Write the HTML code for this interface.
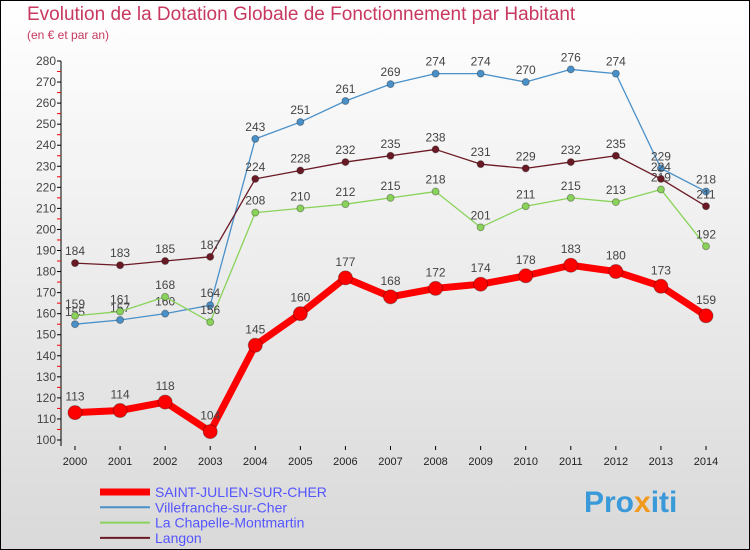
<!DOCTYPE html>
<html><head><meta charset="utf-8"><style>
body{margin:0}
#wrap{position:relative;width:748px;height:548px;border:1px solid #000;background:linear-gradient(#fff,#d9d9d9);overflow:hidden;font-family:"Liberation Sans",sans-serif}
.t{position:absolute;color:#c8385f}
</style></head><body>
<div id="wrap">
<div class="t" style="left:26px;top:3px;font-size:19px">Evolution de la Dotation Globale de Fonctionnement par Habitant</div>
<div class="t" style="left:26px;top:27px;font-size:12px">(en € et par an)</div>
<svg id="svg" width="750" height="550" style="position:absolute;left:-1px;top:-1px"></svg>
<div style="position:absolute;left:583px;top:485px;font-size:30px;font-weight:bold;color:#3a9ad9">Pro<span style="color:#f29a1d">x</span>iti</div>
</div>
<script>
const years=[2000,2001,2002,2003,2004,2005,2006,2007,2008,2009,2010,2011,2012,2013,2014];
const yTicks=[100,110,120,130,140,150,160,170,180,190,200,210,220,230,240,250,260,270,280];
const saint=[113,114,118,104,145,160,177,168,172,174,178,183,180,173,159];
const ville=[155,157,160,164,243,251,261,269,274,274,270,276,274,229,218];
const chap=[159,161,168,156,208,210,212,215,218,201,211,215,213,219,192];
const langon=[184,183,185,187,224,228,232,235,238,231,229,232,235,224,211];
const NS="http://www.w3.org/2000/svg",svg=document.getElementById('svg');
const X=i=>75+i*(706-75)/14, Y=v=>440-(v-100)*(440-61)/180;
function mk(t,a,p){const e=document.createElementNS(NS,t);for(const k in a)e.setAttribute(k,a[k]);(p||svg).appendChild(e);return e;}
const ax=mk('line',{x1:61,y1:Y(280),x2:61,y2:446,stroke:'#000'});


yTicks.forEach(v=>{
 mk('line',{x1:57,x2:61,y1:Y(v),y2:Y(v),stroke:'#000'});
 if(v<280)mk('line',{x1:57,x2:61,y1:Y(v+5),y2:Y(v+5),stroke:'#e00'});
 const t=mk('text',{x:56,y:Y(v)+4,'text-anchor':'end','font-size':12,fill:'#444'});t.textContent=v;
 
 
});
years.forEach((y,i)=>{
 mk('line',{x1:X(i),x2:X(i),y1:446,y2:450,stroke:'#000'});
 const t=mk('text',{x:X(i),y:465,'text-anchor':'middle','font-size':11,fill:'#222'});t.textContent=y;
 
 
});
function series(d,c,w,r,name){
 const g=mk('g',{});
 
 
 mk('polyline',{points:d.map((v,i)=>X(i)+','+Y(v)).join(' '),fill:'none',stroke:c,'stroke-width':w,'stroke-linejoin':'round'},g);
 d.forEach((v,i)=>{
  mk('circle',{cx:X(i),cy:Y(v),r:r,fill:c,stroke:'rgba(0,0,0,0.3)'},g);
  const t=mk('text',{x:X(i),y:Y(v)-8-(r>5?4:0),'text-anchor':'middle','font-size':12,fill:'#444'},g);t.textContent=v;
 });
}
series(ville,'#4a90c8',1.3,3.5,'series-villefranche');
series(chap,'#8ad35a',1.3,3.5,'series-la-chapelle');
series(langon,'#6a1a24',1.3,3.5,'series-langon');
series(saint,'#f00',7,7,'series-saint-julien');
const leg=[['SAINT-JULIEN-SUR-CHER','#f00',7],['Villefranche-sur-Cher','#4a90c8',2],['La Chapelle-Montmartin','#8ad35a',2],['Langon','#6a1a24',2]];
leg.forEach((l,i)=>{
 const y=492+i*15.3;
 const g=mk('g',{});
 
 
 mk('line',{x1:100,x2:150,y1:y,y2:y,stroke:l[1],'stroke-width':l[2]},g);
 const t=mk('text',{x:155,y:y+5,'font-size':14,fill:'#55f'},g);t.textContent=l[0];
});
</script>
</body></html>
